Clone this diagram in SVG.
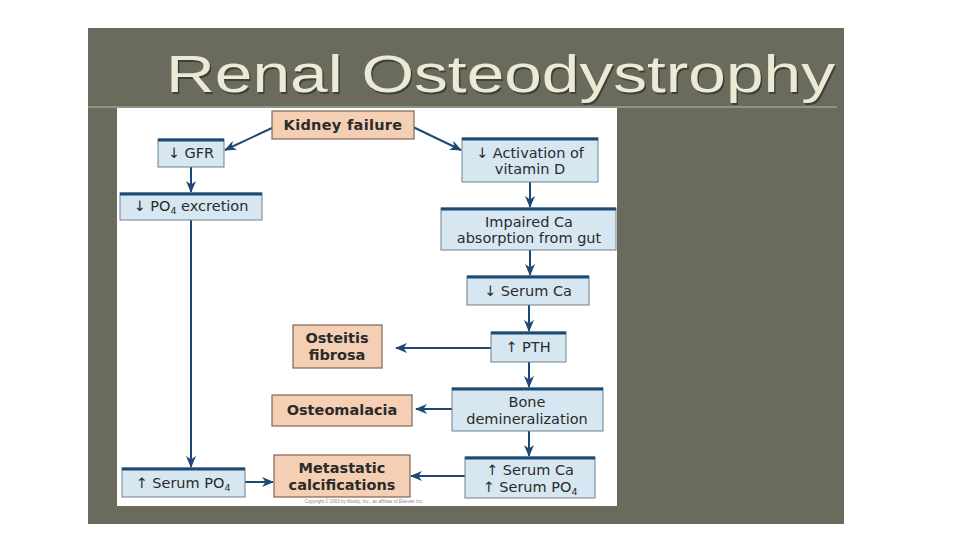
<svg xmlns="http://www.w3.org/2000/svg" width="960" height="540" viewBox="0 0 960 540">
<defs>
<marker id="ah" viewBox="0 0 12 10" refX="11" refY="5" markerWidth="12" markerHeight="10" markerUnits="userSpaceOnUse" orient="auto">
<path d="M0,0 L12,5 L0,10 L3.5,5 z" fill="#1d4a74"/>
</marker>
<style>
.blue rect.b{fill:#d7e7f2;stroke:#6f7f8d;stroke-width:1}
.blue line.t{stroke:#1d4a74;stroke-width:3}
.org rect{fill:#f4cfb3;stroke:#7e6656;stroke-width:1.2}
.tx{font-family:"DejaVu Sans","Liberation Sans",sans-serif;font-size:14.5px;fill:#2b2b2b;text-anchor:middle}
.bt{font-family:"DejaVu Sans","Liberation Sans",sans-serif;font-size:14.5px;font-weight:bold;fill:#2b2b2b;text-anchor:middle}
#connectors line{stroke:#1d4a74;stroke-width:2;marker-end:url(#ah)}
</style>
</defs>
<rect width="960" height="540" fill="#ffffff"/>
<rect x="88" y="28" width="756" height="496" fill="#6a6b5d"/>
<text x="166" y="92" font-family="Liberation Sans, Arial, sans-serif" font-size="51" fill="#3f4036" textLength="669" lengthAdjust="spacingAndGlyphs" transform="translate(1.5,1.5)">Renal Osteodystrophy</text>
<text x="166" y="92" font-family="Liberation Sans, Arial, sans-serif" font-size="51" fill="#ebebd5" textLength="669" lengthAdjust="spacingAndGlyphs">Renal Osteodystrophy</text>
<line x1="88" y1="107" x2="837" y2="107" stroke="#95a68f" stroke-width="1.5"/>
<rect x="117" y="108" width="500" height="398" fill="#ffffff"/>

<g id="connectors">
<line x1="272" y1="128" x2="225" y2="150"/>
<line x1="413" y1="127" x2="461" y2="150"/>
<line x1="191" y1="167" x2="191" y2="192"/>
<line x1="191" y1="220" x2="191" y2="467"/>
<line x1="530" y1="182" x2="530" y2="207"/>
<line x1="530" y1="250" x2="530" y2="275"/>
<line x1="529" y1="305" x2="529" y2="331"/>
<line x1="491" y1="348" x2="396" y2="348"/>
<line x1="529" y1="362" x2="529" y2="387"/>
<line x1="452" y1="409" x2="416" y2="409"/>
<line x1="529" y1="431" x2="529" y2="456"/>
<line x1="465" y1="476" x2="411" y2="476"/>
<line x1="245" y1="482" x2="273" y2="482"/>
</g>

<g id="kidney" class="org"><rect x="272" y="111" width="142" height="28"/><text class="bt" x="343" y="130" letter-spacing="0.3">Kidney failure</text></g>

<g id="gfr" class="blue"><rect class="b" x="158" y="139" width="66" height="28"/><line class="t" x1="158" y1="140" x2="224" y2="140"/><text class="tx" x="191" y="158">↓ GFR</text></g>

<g id="po4exc" class="blue"><rect class="b" x="120" y="193" width="142" height="27"/><line class="t" x1="120" y1="194" x2="262" y2="194"/><text class="tx" x="191" y="211">↓ PO<tspan font-size="9.5" dy="3">4</tspan><tspan dy="-3"> excretion</tspan></text></g>

<g id="vitd" class="blue"><rect class="b" x="462" y="138" width="136" height="44"/><line class="t" x1="462" y1="139" x2="598" y2="139"/><text class="tx" x="530" y="158">↓ Activation of</text><text class="tx" x="530" y="174">vitamin D</text></g>

<g id="impaired" class="blue"><rect class="b" x="441" y="208" width="175" height="42"/><line class="t" x1="441" y1="209" x2="616" y2="209"/><text class="tx" x="529" y="227">Impaired Ca</text><text class="tx" x="529" y="243">absorption from gut</text></g>

<g id="serumca" class="blue"><rect class="b" x="467" y="276" width="122" height="29"/><line class="t" x1="467" y1="277" x2="589" y2="277"/><text class="tx" x="528" y="296">↓ Serum Ca</text></g>

<g id="pth" class="blue"><rect class="b" x="491" y="332" width="75" height="30"/><line class="t" x1="491" y1="333" x2="566" y2="333"/><text class="tx" x="528" y="352">↑ PTH</text></g>

<g id="bone" class="blue"><rect class="b" x="452" y="388" width="151" height="43"/><line class="t" x1="452" y1="389" x2="603" y2="389"/><text class="tx" x="527" y="407">Bone</text><text class="tx" x="527" y="424">demineralization</text></g>

<g id="serumcapo4" class="blue"><rect class="b" x="465" y="457" width="130" height="41"/><line class="t" x1="465" y1="458" x2="595" y2="458"/><text class="tx" x="530" y="475">↑ Serum Ca</text><text class="tx" x="530" y="492">↑ Serum PO<tspan font-size="9.5" dy="3">4</tspan></text></g>

<g id="serumpo4" class="blue"><rect class="b" x="122" y="468" width="123" height="29"/><line class="t" x1="122" y1="469" x2="245" y2="469"/><text class="tx" x="183" y="488">↑ Serum PO<tspan font-size="9.5" dy="3">4</tspan></text></g>

<g id="osteitis" class="org"><rect x="293" y="325" width="89" height="43"/><text class="bt" x="337" y="343">Osteitis</text><text class="bt" x="337" y="360">fibrosa</text></g>

<g id="osteomalacia" class="org"><rect x="272" y="395" width="140" height="31"/><text class="bt" x="342" y="415">Osteomalacia</text></g>

<g id="metastatic" class="org"><rect x="274" y="455" width="136" height="42"/><text class="bt" x="342" y="473">Metastatic</text><text class="bt" x="342" y="490">calcifications</text></g>

<text x="364" y="503" font-family="Liberation Sans, Arial, sans-serif" font-size="4.5" fill="#888" text-anchor="middle">Copyright © 2003 by Mosby, Inc., an affiliate of Elsevier Inc.</text>
</svg>
